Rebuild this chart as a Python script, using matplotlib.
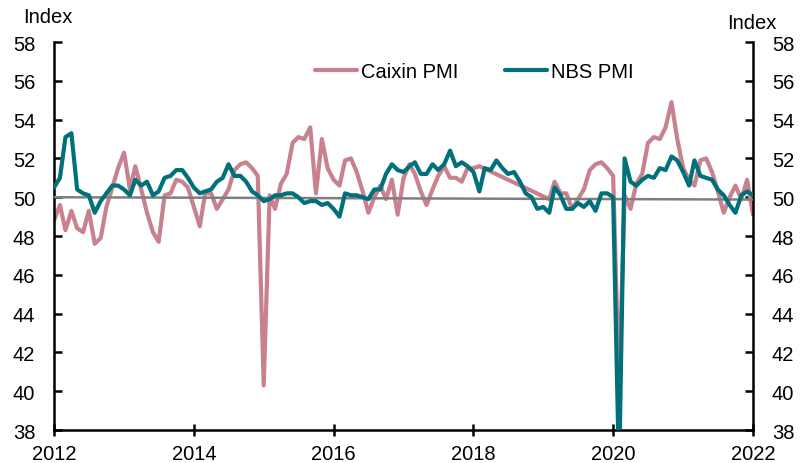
import numpy as np
import pandas as pd
import matplotlib
matplotlib.use('Agg')
import matplotlib.pyplot as plt
import matplotlib.dates as mdates

plt.rcParams['font.family'] = ['Liberation Sans', 'DejaVu Sans']

# Caixin PMI as plotted: Jan 2012 - Feb 2018, then Feb 2019 - Jan 2022
caixin_part1 = [
    48.8, 49.6, 48.3, 49.3, 48.4, 48.2, 49.3, 47.6, 47.9, 49.5, 50.5, 51.5,  # 2012
    52.3, 50.4, 51.6, 50.4, 49.2, 48.2, 47.7, 50.1, 50.2, 50.9, 50.8, 50.5,  # 2013
    49.5, 48.5, 50.2, 50.2, 49.4, 49.9, 50.4, 51.4, 51.7, 51.8, 51.5, 51.1,  # 2014
    40.3, 50.1, 49.4, 50.7, 51.2, 52.8, 53.1, 53.0, 53.6, 50.2, 53.0, 51.5,  # 2015
    50.9, 50.6, 51.9, 52.0, 51.3, 50.3, 49.2, 50.0, 50.6, 49.9, 50.9, 49.1,  # 2016
    51.0, 51.7, 51.2, 50.3, 49.6, 50.4, 51.1, 51.6, 51.0, 51.0, 50.8, 51.5,  # 2017
    51.5, 51.6,                                                              # 2018
]
caixin_part2 = [
    49.9, 50.8, 50.2, 50.2, 49.4, 49.9, 50.4, 51.4, 51.7, 51.8, 51.5,        # 2019
    51.1, 40.3, 50.1, 49.4, 50.7, 51.2, 52.8, 53.1, 53.0, 53.6, 54.9, 53.0,  # 2020
    51.5, 50.9, 50.6, 51.9, 52.0, 51.3, 50.3, 49.2, 50.0, 50.6, 49.9, 50.9,  # 2021
    49.1,                                                                    # 2022
]

# NBS PMI Jan 2012 - Jan 2022
nbs_pmi = [
    50.5, 51.0, 53.1, 53.3, 50.4, 50.2, 50.1, 49.2, 49.8, 50.2, 50.6, 50.6,  # 2012
    50.4, 50.1, 50.9, 50.6, 50.8, 50.1, 50.3, 51.0, 51.1, 51.4, 51.4, 51.0,  # 2013
    50.5, 50.2, 50.3, 50.4, 50.8, 51.0, 51.7, 51.1, 51.1, 50.8, 50.3, 50.1,  # 2014
    49.8, 49.9, 50.1, 50.1, 50.2, 50.2, 50.0, 49.7, 49.8, 49.8, 49.6, 49.7,  # 2015
    49.4, 49.0, 50.2, 50.1, 50.1, 50.0, 49.9, 50.4, 50.4, 51.2, 51.7, 51.4,  # 2016
    51.3, 51.6, 51.8, 51.2, 51.2, 51.7, 51.4, 51.7, 52.4, 51.6, 51.8, 51.6,  # 2017
    51.3, 50.3, 51.5, 51.4, 51.9, 51.5, 51.2, 51.3, 50.8, 50.2, 50.0, 49.4,  # 2018
    49.5, 49.2, 50.5, 50.1, 49.4, 49.4, 49.7, 49.5, 49.8, 49.3, 50.2, 50.2,  # 2019
    50.0, 35.7, 52.0, 50.8, 50.6, 50.9, 51.1, 51.0, 51.5, 51.4, 52.1, 51.9,  # 2020
    51.3, 50.6, 51.9, 51.1, 51.0, 50.9, 50.4, 50.1, 49.6, 49.2, 50.1, 50.3,  # 2021
    50.1,                                                                    # 2022
]

caixin = caixin_part1 + caixin_part2
caixin_dates = pd.date_range('2012-01-01', periods=len(caixin_part1), freq='MS').append(
    pd.date_range('2019-02-01', periods=len(caixin_part2), freq='MS'))
nbs_dates = pd.date_range('2012-01-01', periods=len(nbs_pmi), freq='MS')

# 50 reference line (drawn slightly sloped in the original)
ref_dates = pd.to_datetime(['2012-01-01', '2022-01-01'])
ref_level = [50.0, 49.88]

pink = '#C8828F'
teal = '#00707A'
fs = 14.5

fig = plt.figure(figsize=(8.01, 4.64), dpi=100)
ax = fig.add_axes([0.0674, 0.071, 0.8727, 0.8363])

ax.plot(caixin_dates, caixin, color=pink, lw=3, label='Caixin PMI', zorder=2,
        solid_capstyle='round', solid_joinstyle='round')
ax.plot(ref_dates, ref_level, color='#7F7F7F', lw=1.8, zorder=3)
ax.plot(nbs_dates, nbs_pmi, color=teal, lw=3, label='NBS PMI', zorder=4,
        solid_capstyle='round', solid_joinstyle='round')

ax.set_xlim(pd.Timestamp('2012-01-01'), pd.Timestamp('2022-01-01'))
ax.set_ylim(38, 58)
ax.set_yticks(np.arange(38, 59, 2))
ax.xaxis.set_major_locator(mdates.YearLocator(2))
ax.xaxis.set_major_formatter(mdates.DateFormatter('%Y'))

for side in ['left', 'right', 'bottom']:
    ax.spines[side].set_linewidth(1.8)
    ax.spines[side].set_color('black')
ax.spines['top'].set_visible(False)

ax.tick_params(axis='y', direction='in', length=6, width=1.8, left=True, right=True,
               labelleft=True, labelright=True, labelsize=fs, pad=13.5)
ax.tick_params(axis='x', direction='inout', length=8.6, width=1.8, labelsize=fs, pad=5.5)

fig.text(48 / 801, 1 - 17.5 / 464, 'Index', fontsize=fs, ha='center', va='center')
fig.text(752 / 801, 1 - 23.5 / 464, 'Index', fontsize=fs, ha='center', va='center')

ax.legend(loc='center', bbox_to_anchor=(0.601, 0.923), ncol=2, frameon=False,
          handlelength=2.1, handletextpad=0.2, columnspacing=2.3, fontsize=fs)

fig.savefig('out.png', dpi=100)
